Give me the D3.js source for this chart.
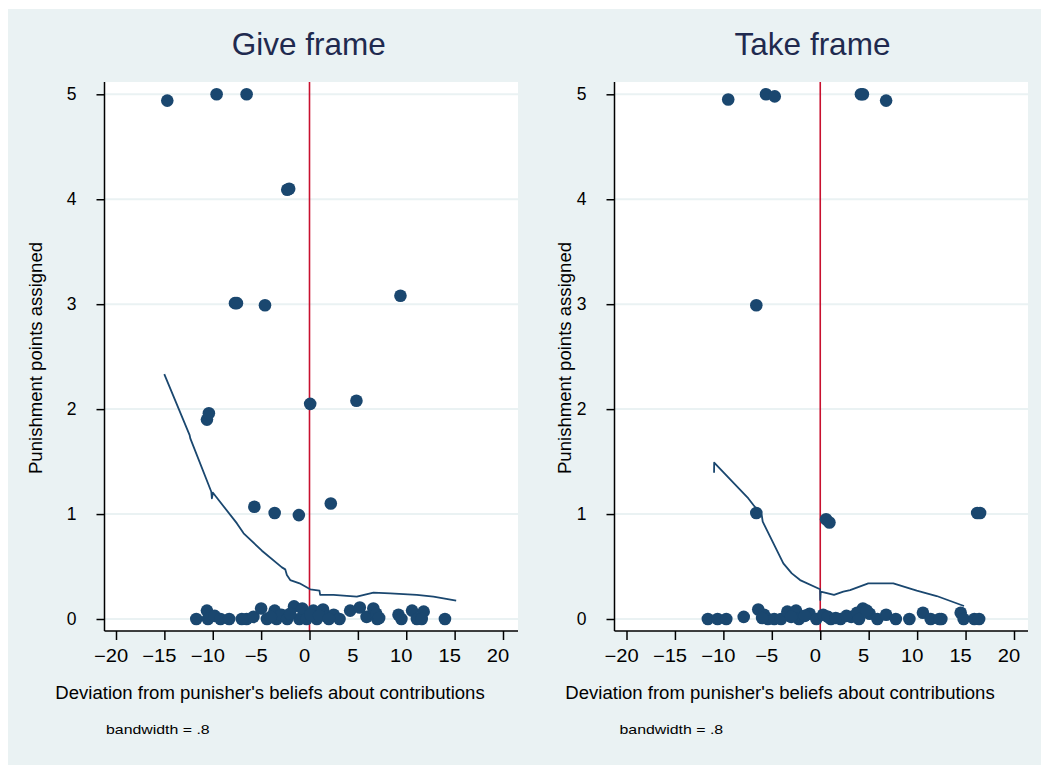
<!DOCTYPE html>
<html>
<head>
<meta charset="utf-8">
<script src="https://cdn.jsdelivr.net/npm/d3@7"></script>
<style>
  html, body { margin: 0; padding: 0; background: #ffffff; }
  svg { display: block; font-family: "Liberation Sans", Arial, sans-serif; }
</style>
</head>
<body>
<svg id="chart" width="1059" height="772"></svg>
<script>
// ---- data ----
const xTicks = [-20, -15, -10, -5, 0, 5, 10, 15, 20];
const yTicks = [0, 1, 2, 3, 4, 5];
const panelTitles = ["Give frame", "Take frame"];
const xTitle = "Deviation from punisher's beliefs about contributions";
const yTitle = "Punishment points assigned";
const noteText = "bandwidth = .8";

// Give frame: deviation (x) and punishment points (y), jittered
const giveX = [-14.7, -9.6, -6.5, -2.3, -2.1, -7.7, -7.5, -4.6, 9.4,
  -10.6, -10.4, 0.07, 4.85, -5.7, -3.6, -1.1, 2.2,
  -11.7, -10.6, -10.5, -9.8, -9.2, -8.3, -6.5, -5.8, -5.0, -4.4, -3.6, -3.4, -2.9, -2.3,
  -1.6, -1.05, -0.75, -0.3, 0.4, 0.76, 1.4, 1.8, 2.5, 3.1, 4.2, 5.2, 5.9, 6.6, 7.0,
  9.2, 9.5, 10.6, 11.1, 11.8, 11.6, 14.0, -7.0, -4.0, -2.0, 0.1, 1.0, 2.0, 6.9, 7.2];
const giveY = [4.94, 5.0, 5.0, 4.09, 4.1, 3.01, 3.01, 2.99, 3.08,
  1.90, 1.96, 2.05, 2.08, 1.07, 1.01, 0.99, 1.10,
  0, 0.08, 0, 0.03, 0, 0, 0, 0.02, 0.1, 0, 0.08, 0, 0.04, 0,
  0.12, 0, 0.1, 0, 0.08, 0, 0.09, 0.02, 0.04, 0, 0.08, 0.11, 0.02, 0.1, 0,
  0.04, 0, 0.08, 0, 0.07, 0, 0, 0, 0.02, 0.05, 0.04, 0.03, 0, 0.05, 0.01];

// Take frame
const takeX = [-9.5, -5.6, -4.7, 4.2, 4.4, 6.8, -6.6,
  -6.6, 0.6, 0.95, 16.2, 16.5,
  -11.6, -10.6, -9.7, -7.9, -6.4, -5.8, -5.4, -4.75, -4.05, -3.4, -2.5, -2.2, -1.1, -0.4,
  0.3, 1.1, 2.1, 3.2, 4.4, 5.1, 5.9, 6.8, 7.8, 9.2, 10.6, 11.4, 12.5, 14.5, 14.8, 15.9, 16.4,
  -6.0, -3.0, -1.6, 0.8, 1.6, 2.7, 3.8, 4.0, 4.8, 12.3];
const takeY = [4.95, 5.0, 4.98, 5.0, 5.0, 4.94, 2.99,
  1.01, 0.95, 0.92, 1.01, 1.01,
  0, 0, 0, 0.02, 0.09, 0.04, 0, 0, 0, 0.07, 0.08, 0, 0.05, 0,
  0.04, 0, 0, 0.02, 0.1, 0.05, 0, 0.04, 0, 0, 0.06, 0, 0, 0.06, 0, 0, 0,
  0.01, 0.02, 0.03, 0.02, 0.01, 0.03, 0.06, 0, 0.08, 0];

// lowess smooth (bandwidth .8)
const giveFitX = [-15.01, -12.39, -12.32, -10.15, -10.09, -9.98, -7.50, -6.81, -4.92, -2.85, -2.51,
  -2.34, -1.99, -1.03, 0.07, 1.03, 1.10, 2.48, 4.89, 6.61, 8.34, 11.09, 12.81, 15.16];
const giveFitY = [2.333, 1.752, 1.721, 1.213, 1.149, 1.203, 0.911, 0.816, 0.651, 0.492, 0.473,
  0.419, 0.371, 0.340, 0.283, 0.270, 0.229, 0.229, 0.213, 0.251, 0.244, 0.229, 0.213, 0.175];
const takeFitX = [-10.96, -10.95, -7.42, -6.90, -6.04, -5.94, -3.81, -2.94, -2.08, -0.02, 0.0, 0.05,
  1.42, 2.38, 3.08, 4.96, 7.54, 9.96, 12.02, 14.84];
const takeFitY = [1.393, 1.489, 1.149, 1.086, 0.990, 0.927, 0.530, 0.435, 0.371, 0.283, 0.181, 0.26,
  0.229, 0.260, 0.276, 0.340, 0.340, 0.270, 0.219, 0.124];

// ---- styling / layout ----
const BG = "#eaf2f3";
const NAVY = "#1a476f";
const RED = "#c8102e";
const TITLE_COLOR = "#1f2a4f";

const svg = d3.select("#chart");
svg.append("rect").attr("x", 8).attr("y", 9).attr("width", 1033).attr("height", 756).attr("fill", BG);

// widen small text slightly to match Stata's glyph spacing
function widen(sel, factor) {
  sel.each(function () {
    const w = this.getComputedTextLength();
    d3.select(this).attr("textLength", w * factor).attr("lengthAdjust", "spacingAndGlyphs");
  });
}

const panels = [
  { title: panelTitles[0], xs: giveX, ys: giveY, fx: giveFitX, fy: giveFitY,
    left: 104.5, right: 518, x0: 116, x1: 503, titleX: 308.7, xTitleX: 270, noteX: 106, yTitleX: 36 },
  { title: panelTitles[1], xs: takeX, ys: takeY, fx: takeFitX, fy: takeFitY,
    left: 614.5, right: 1028, x0: 626.5, x1: 1014, titleX: 812.5, xTitleX: 780, noteX: 619.5, yTitleX: 565 }
];

const plotTop = 82, plotBottom = 631;

panels.forEach(p => {
  const x = d3.scaleLinear().domain([-20, 20]).range([p.x0, p.x1]);
  const y = d3.scaleLinear().domain([0, 5]).range([619, 94.3]);
  const g = svg.append("g");

  // plot region
  g.append("rect").attr("x", p.left).attr("y", plotTop)
    .attr("width", p.right - p.left).attr("height", plotBottom - plotTop).attr("fill", "#ffffff");

  // horizontal grid
  g.selectAll("line.grid").data(yTicks).join("line")
    .attr("class", "grid")
    .attr("x1", p.left).attr("x2", p.right)
    .attr("y1", d => y(d)).attr("y2", d => y(d))
    .attr("stroke", BG).attr("stroke-width", 2);

  // reference line at zero deviation
  g.append("line").attr("x1", x(0)).attr("x2", x(0)).attr("y1", plotTop).attr("y2", plotBottom)
    .attr("stroke", RED).attr("stroke-width", 1.6);

  // scatter
  const pts = p.xs.map((v, i) => [v, p.ys[i]]);
  g.selectAll("circle").data(pts).join("circle")
    .attr("cx", d => x(d[0])).attr("cy", d => y(d[1])).attr("r", 6.3)
    .attr("fill", NAVY);

  // lowess line
  const fit = p.fx.map((v, i) => [v, p.fy[i]]);
  g.append("path").datum(fit)
    .attr("d", d3.line().x(d => x(d[0])).y(d => y(d[1])))
    .attr("fill", "none").attr("stroke", NAVY).attr("stroke-width", 1.8)
    .attr("stroke-linejoin", "round");

  // y axis
  const yAxis = g.append("g").attr("transform", `translate(${p.left},0)`)
    .call(d3.axisLeft(y).tickValues(yTicks).tickFormat(d3.format("d")).tickSize(8).tickPadding(20));
  yAxis.select(".domain").attr("d", `M0,${plotTop}V${plotBottom}`).attr("stroke", "#000").attr("stroke-width", 1.5);
  yAxis.selectAll(".tick line").attr("stroke", "#000").attr("stroke-width", 1.5);
  yAxis.selectAll(".tick text").attr("font-size", 17.5).attr("fill", "#000")
    .attr("font-family", "Liberation Sans, Arial, sans-serif");

  // x axis
  const xAxis = g.append("g").attr("transform", `translate(0,${plotBottom})`)
    .call(d3.axisBottom(x).tickValues(xTicks).tickFormat(d3.format("d")).tickSize(9).tickPadding(10));
  xAxis.select(".domain").attr("d", `M${p.left},0H${p.right}`).attr("stroke", "#000").attr("stroke-width", 1.5);
  xAxis.selectAll(".tick line").attr("stroke", "#000").attr("stroke-width", 1.5);
  xAxis.selectAll(".tick text").attr("font-size", 17.5).attr("fill", "#000")
    .attr("font-family", "Liberation Sans, Arial, sans-serif")
    .attr("dx", -5.5).call(widen, 1.15);

  // titles
  g.append("text").attr("x", p.titleX).attr("y", 55).attr("text-anchor", "middle")
    .attr("font-size", 31.5).attr("fill", TITLE_COLOR).text(p.title);

  g.append("text").attr("x", p.xTitleX).attr("y", 699).attr("text-anchor", "middle")
    .attr("font-size", 17.5).attr("fill", "#000").text(xTitle).call(widen, 1.06);

  g.append("text").attr("transform", `translate(${p.yTitleX},358) rotate(-90)`)
    .attr("text-anchor", "middle").attr("dy", "0.35em")
    .attr("font-size", 17.5).attr("fill", "#000").text(yTitle).call(widen, 1.06);

  g.append("text").attr("x", p.noteX).attr("y", 733.5)
    .attr("font-size", 13).attr("fill", "#000").text(noteText).call(widen, 1.22);
});
</script>
</body>
</html>
